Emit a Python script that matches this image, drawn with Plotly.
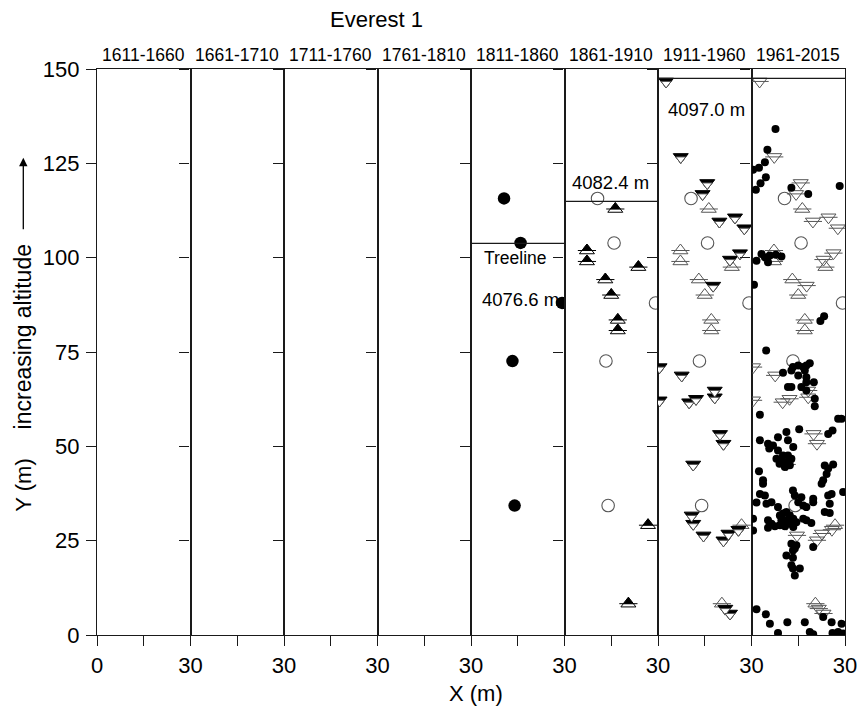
import plotly.graph_objects as go

# ---------------- data ----------------
periods = ["1611-1660", "1661-1710", "1711-1760", "1761-1810",
           "1811-1860", "1861-1910", "1911-1960", "1961-2015"]
y_ticks = [0, 25, 50, 75, 100, 125, 150]

# trees established 1811-1860 (large filled circles)
c1_x = [10.6, 15.9, 29.2, 13.3, 14.0]
c1_y = [115.7, 103.9, 88.0, 72.6, 34.3]

# trees established 1861-1910 (up triangles)
c2_x = [16.3, 7.2, 7.2, 23.7, 13.1, 15.0, 17.1, 17.1, 26.8, 20.5]
c2_y = [112.9, 101.9, 99.0, 97.5, 94.2, 90.1, 83.5, 80.7, 29.1, 8.3]

# trees established 1911-1960 (down triangles)
c3_x = [2.6, 7.3, 15.8, 14.3, 19.7, 24.7, 27.7, 23.1, 26.3, 17.7,
        0.5, 0.5, 7.6, 10.0, 12.2, 18.2, 18.2, 19.9, 21.0, 11.3,
        10.8, 11.3, 14.6, 21.0, 22.6, 25.8, 21.6, 23.1]
c3_y = [146.7, 126.7, 119.8, 116.9, 109.6, 110.7, 107.8, 99.5, 101.2, 92.6,
        71.0, 62.2, 68.8, 61.7, 62.6, 64.8, 63.0, 53.3, 50.7, 45.2,
        31.7, 29.5, 26.4, 25.1, 26.9, 27.9, 7.0, 5.7]

# trees established 1961-2015 (small dots)
c4_x = [7.7, 5.1, 4.3, 2.4, 0.5, 4.6, 2.9, 1.4, 12.8, 18.2, 28.3,
        1.6, 3.2, 4.3, 5.3, 5.9, 7.8, 9.6,
        0.8, 22.1, 23.3, 4.7,
        13.3, 15.0, 16.6, 17.6, 18.7, 12.8, 17.1,
        10.1, 15.0, 17.6, 17.6, 20.0, 11.7, 12.8, 16.0, 17.6, 20.3, 20.3,
        2.7, 27.8, 28.9, 26.0, 24.6, 15.3, 11.2, 8.5, 5.3, 2.7, 6.9, 11.7,
        5.7, 8.5, 10.1, 11.7, 13.4, 8.0, 9.6, 11.2, 12.3, 9.0, 10.7, 12.8,
        13.3, 2.4, 3.7, 3.7, 2.7, 4.3, 1.6, 4.8, 6.4, 8.5,
        0.5, 0.5, 5.3, 6.4, 5.3, 7.5,
        9.1, 10.1, 11.2, 12.3, 13.4, 9.6, 11.2, 12.3, 13.4, 10.7, 9.1, 14.4,
        15.0, 16.6, 17.6, 16.0, 13.9,
        16.6, 17.6, 19.2,
        23.5, 24.6, 26.2, 24.1, 23.0, 22.5,
        25.7, 24.6, 25.1, 23.5, 25.1,
        29.4, 19.8, 19.8,
        12.8, 14.4, 13.3, 13.9, 11.2, 13.3,
        12.8, 13.3, 15.5, 13.9, 19.8,
        1.6, 4.6, 5.9, 8.5, 11.5, 17.1, 23.0, 25.7, 28.9, 18.7, 19.8, 26.0, 27.8, 29.4, 27.8]
c4_y = [134.1, 128.6, 125.3, 123.8, 123.3, 121.3, 119.7, 118.0, 118.5, 116.9, 119.0,
        99.2, 101.0, 100.1, 98.8, 100.6, 100.8, 100.3,
        92.8, 83.2, 84.5, 75.4,
        71.0, 71.4, 71.0, 71.4, 72.0, 70.1, 70.1,
        69.5, 68.8, 68.3, 67.0, 67.0, 65.7, 65.7, 65.7, 64.8, 62.6, 60.6,
        58.4, 57.3, 57.3, 54.2, 53.3, 54.5, 53.8, 52.4, 50.7, 51.6, 50.2, 51.6,
        49.4, 48.9, 47.6, 47.6, 49.8, 46.7, 46.3, 45.8, 45.0, 45.4, 44.5, 46.7,
        38.3, 43.4, 41.0, 40.1, 37.4, 37.0, 35.1, 34.8, 35.2, 33.9,
        30.8, 27.7, 30.4, 29.5, 28.4, 28.8,
        31.7, 32.2, 32.6, 31.7, 30.8, 30.4, 30.4, 29.5, 28.6, 28.8, 29.1, 29.9,
        35.2, 34.3, 33.9, 36.5, 37.0,
        30.8, 30.4, 29.7,
        44.9, 44.1, 45.2, 42.7, 41.0, 40.1,
        37.4, 37.0, 34.8, 32.6, 32.3,
        37.9, 36.1, 35.2,
        24.2, 23.8, 22.4, 22.9, 21.1, 20.5,
        18.5, 17.6, 17.6, 15.8, 23.3,
        6.8, 5.5, 3.0, 0.5, 3.4, 3.4, 4.8, 3.4, 3.0, 0.8, 0.2, 0.5, 0.8, 0.4, 0.2]

# treelines per period
treeline_period = ["1811-1860", "1861-1910", "1911-1960", "1961-2015"]
treeline_y = [103.8, 114.9, 147.5, 147.5]

# ---------------- layout constants ----------------
W, H = 862, 715
ML, MR, MT, MB = 97, 17, 68.5, 80.3
PH = H - MT - MB
PPU = PH / 150.0          # pixels per metre on y
FONT = "Liberation Sans, Arial, sans-serif"
LINE = "#1a1a1a"
GREY = "#555555"
NP = len(periods)

S_TRI = 13
S_BIG = 12.5
S_DOT = 8
dy_tri = (S_TRI / 6.0) / PPU   # shift (data units) for the small inner triangle

fig = go.Figure()


def ax(i):
    return ("x" if i == 0 else "x%d" % (i + 1)), ("y" if i == 0 else "y%d" % (i + 1))


def add(i, x, y, **kw):
    xa, ya = ax(i)
    fig.add_trace(go.Scatter(x=x, y=y, mode="markers", xaxis=xa, yaxis=ya,
                             hoverinfo="skip", showlegend=False, cliponaxis=True, **kw))


# keep every panel drawn, even the empty ones
for i in range(NP):
    add(i, [None], [None], marker=dict(size=1, color="white"))


def open_circles(i):
    add(i, c1_x, c1_y, marker=dict(symbol="circle-open", size=S_BIG, color=GREY,
                                   line=dict(color=GREY, width=1.1)))


def tri_up_half(i):
    add(i, c2_x, c2_y, marker=dict(symbol="triangle-up", size=S_TRI, color="white",
                                   line=dict(color="black", width=1)))
    add(i, c2_x, [v + dy_tri for v in c2_y],
        marker=dict(symbol="triangle-up", size=S_TRI * 2 / 3, color="black",
                    line=dict(color="black", width=0.5)))
    add(i, c2_x, c2_y, marker=dict(symbol="line-ew", size=S_TRI, color="black",
                                   line=dict(color="black", width=1)))


def tri_up_open(i):
    add(i, c2_x, c2_y, marker=dict(symbol="triangle-up-open", size=S_TRI, color=GREY,
                                   line=dict(color=GREY, width=1)))
    add(i, c2_x, c2_y, marker=dict(symbol="line-ew", size=S_TRI, color=GREY,
                                   line=dict(color=GREY, width=1)))


def tri_down_half(i):
    add(i, c3_x, c3_y, marker=dict(symbol="triangle-down", size=S_TRI, color="black",
                                   line=dict(color="black", width=1)))
    add(i, c3_x, [v - dy_tri for v in c3_y],
        marker=dict(symbol="triangle-down", size=S_TRI * 2 / 3, color="white",
                    line=dict(color=GREY, width=1)))


def tri_down_open(i):
    add(i, c3_x, c3_y, marker=dict(symbol="triangle-down-open", size=S_TRI, color=GREY,
                                   line=dict(color=GREY, width=1)))
    add(i, c3_x, c3_y, marker=dict(symbol="line-ew", size=S_TRI, color=GREY,
                                   line=dict(color=GREY, width=1)))


p = {name: k for k, name in enumerate(periods)}

# 1811-1860
add(p["1811-1860"], c1_x, c1_y, marker=dict(symbol="circle", size=S_BIG, color="black",
                                             line=dict(width=0)))
# 1861-1910
open_circles(p["1861-1910"])
tri_up_half(p["1861-1910"])
# 1911-1960
open_circles(p["1911-1960"])
tri_up_open(p["1911-1960"])
tri_down_half(p["1911-1960"])
# 1961-2015
open_circles(p["1961-2015"])
tri_up_open(p["1961-2015"])
tri_down_open(p["1961-2015"])
add(p["1961-2015"], c4_x, c4_y, marker=dict(symbol="circle", size=S_DOT, color="black",
                                             line=dict(width=0)))

# ---------------- axes ----------------
layout = dict(width=W, height=H, autosize=False,
              margin=dict(l=ML, r=MR, t=MT, b=MB, pad=0, autoexpand=False),
              paper_bgcolor="white", plot_bgcolor="white", showlegend=False,
              font=dict(family=FONT, color="black"))
for i in range(NP):
    xa, ya = ax(i)
    xk = "xaxis" if i == 0 else "xaxis%d" % (i + 1)
    yk = "yaxis" if i == 0 else "yaxis%d" % (i + 1)
    if i == 0:
        tv, tt = [0, 15, 30], ["0", "", "30"]
    else:
        tv, tt = [15, 30], ["", "30"]
    layout[xk] = dict(domain=[i / NP, (i + 1) / NP], range=[0, 30], anchor=ya,
                      showline=True, mirror=True, linecolor=LINE, linewidth=1.2,
                      ticks="outside", ticklen=10, tickwidth=1.2, tickcolor=LINE,
                      tickvals=tv, ticktext=tt, tickfont=dict(size=22, family=FONT),
                      showgrid=False, zeroline=False, fixedrange=True, automargin=False)
    layout[yk] = dict(domain=[0, 1], range=[0, 150], anchor=xa,
                      showline=True, mirror=True, linecolor=LINE, linewidth=1.2,
                      ticks="outside", ticklen=10, tickwidth=1.2, tickcolor=LINE,
                      tickvals=y_ticks, showticklabels=(i == 0),
                      tickfont=dict(size=22, family=FONT), ticklabelstandoff=2,
                      showgrid=False, zeroline=False, fixedrange=True, automargin=False)
fig.update_layout(**layout)

# treelines
for name, yv in zip(treeline_period, treeline_y):
    xa, ya = ax(p[name])
    fig.add_shape(type="line", xref=xa, yref=ya, x0=0, x1=30, y0=yv, y1=yv,
                  line=dict(color=LINE, width=1.2))


def px2paper_x(px):
    return (px - ML) / (W - ML - MR)


def px2paper_y(py):
    return (H - MB - py) / PH


ann = []
ann.append(dict(text="Everest 1", xref="paper", yref="paper", x=px2paper_x(376.5),
                y=px2paper_y(19), showarrow=False, font=dict(size=22),
                xanchor="center", yanchor="middle"))
for i, name in enumerate(periods):
    ann.append(dict(text=name, xref="paper", yref="paper", x=(i + 0.5) / NP,
                    y=px2paper_y(54.5), showarrow=False, font=dict(size=17.5),
                    xanchor="center", yanchor="middle"))

# treeline labels
lab = [("1811-1860", "Treeline", 14.4, 99.8, 17.5),
       ("1811-1860", "4076.6 m", 16.0, 88.9, 18.5),
       ("1861-1910", "4082.4 m", 14.7, 120.0, 18.5),
       ("1911-1960", "4097.0 m", 15.5, 139.4, 18.5)]
for name, t, xx, yy, fs in lab:
    xa, ya = ax(p[name])
    ann.append(dict(text=t, xref=xa, yref=ya, x=xx, y=yy, showarrow=False,
                    font=dict(size=fs), xanchor="center", yanchor="middle"))

# axis titles
ann.append(dict(text="X (m)", xref="paper", yref="paper", x=px2paper_x(476),
                y=px2paper_y(693), showarrow=False, font=dict(size=22),
                xanchor="center", yanchor="middle"))
ann.append(dict(text="Y (m)", xref="paper", yref="paper", x=px2paper_x(23.3),
                y=px2paper_y(485), showarrow=False, font=dict(size=22), textangle=-90,
                xanchor="center", yanchor="middle"))
ann.append(dict(text="increasing altitude", xref="paper", yref="paper",
                x=px2paper_x(23.3), y=px2paper_y(336.7), showarrow=False,
                font=dict(size=23), textangle=-90, xanchor="center", yanchor="middle"))
ann.append(dict(text="", xref="paper", yref="paper", x=px2paper_x(23.3),
                y=px2paper_y(157.3), showarrow=True, ax=0, ay=73, arrowhead=2,
                arrowsize=1.3, arrowwidth=1.3, arrowcolor="black"))
fig.update_layout(annotations=ann)

fig.write_html("out.html")
